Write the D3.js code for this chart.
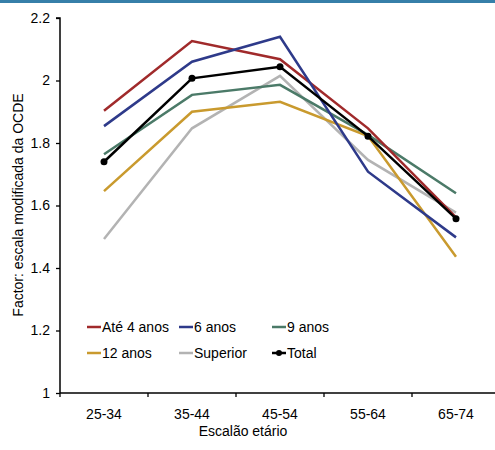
<!DOCTYPE html>
<html><head><meta charset="utf-8">
<script src="https://cdn.jsdelivr.net/npm/d3@7"></script>
<style>body{margin:0;background:#fff}svg{display:block}text{font-family:"Liberation Sans",Arial,sans-serif}</style>
</head><body>
<script>
const categories = ["25-34","35-44","45-54","55-64","65-74"];
const seriesNames = ["Até 4 anos","6 anos","9 anos","12 anos","Superior","Total"];
const ate4 = [1.903,2.126,2.068,1.847,1.562];
const anos6 = [1.854,2.060,2.140,1.708,1.498];
const anos9 = [1.764,1.954,1.986,1.826,1.639];
const anos12 = [1.646,1.900,1.932,1.822,1.436];
const superior = [1.493,1.847,2.015,1.746,1.577];
const total = [1.740,2.007,2.044,1.822,1.558];
const yTicks = [1,1.2,1.4,1.6,1.8,2,2.2];
const yTickLabels = ["1","1.2","1.4","1.6","1.8","2","2.2"];
const colors = ["#a02a2b","#2e3a8a","#4b7a68","#c99a2e","#b3b3b3","#000000"];

const seriesValues = [ate4,anos6,anos9,anos12,superior,total];
const W=495,H=450;
const svg=d3.select("body").append("svg").attr("width",W).attr("height",H);
svg.append("rect").attr("x",0).attr("y",0).attr("width",W).attr("height",3).attr("fill","#367fa9");

const x=d3.scaleBand().domain(categories).range([60,500]);
const y=d3.scaleLinear().domain([1,2.2]).range([393,18]);

// y axis
const ya=svg.append("g").attr("transform","translate(60,0)")
  .call(d3.axisLeft(y).tickValues(yTicks).tickFormat((d,i)=>yTickLabels[i]).tickSize(4).tickPadding(6));
ya.select(".domain").attr("stroke","#000").attr("stroke-width",1.5).attr("d","M-4,18H0V393");
ya.selectAll(".tick line").attr("stroke","#000").attr("stroke-width",1.3);
ya.selectAll("text").attr("font-size",14).attr("fill","#000");

// x axis
const xa=svg.append("g").attr("transform","translate(0,393)")
  .call(d3.axisBottom(x).tickSize(0).tickPadding(16));
xa.select(".domain").attr("stroke","#000").attr("stroke-width",1.5).attr("d","M60,0H500");
xa.selectAll("text").attr("font-size",14).attr("fill","#000");
const bounds=[...categories.map(c=>x(c)),x(categories[4])+x.bandwidth()];
xa.selectAll(".bt").data(bounds).enter().append("line").attr("x1",d=>d).attr("x2",d=>d).attr("y1",0).attr("y2",4).attr("stroke","#000").attr("stroke-width",1.3);

svg.append("text").attr("x",243).attr("y",436).attr("text-anchor","middle").attr("font-size",14).attr("fill","#000").text("Escalão etário");
svg.append("text").attr("transform","translate(23,205) rotate(-90)").attr("text-anchor","middle").attr("font-size",14).attr("fill","#000").text("Factor: escala modificada da OCDE");

const line=d3.line().x((d,i)=>x(categories[i])+x.bandwidth()/2).y(d=>y(d));
const order=[4,3,2,0,1,5];
order.forEach(s=>{
  svg.append("path").datum(seriesValues[s]).attr("d",line).attr("fill","none")
    .attr("stroke",colors[s]).attr("stroke-width",2.5).attr("stroke-linejoin","miter");
});
svg.selectAll(".tm").data(total).enter().append("circle")
  .attr("cx",(d,i)=>x(categories[i])+x.bandwidth()/2).attr("cy",d=>y(d)).attr("r",3.5).attr("fill","#000");

// legend
const legX=[87,179,272], legY=[327,353];
seriesNames.forEach((n,i)=>{
  const lx=legX[i%3], ly=legY[Math.floor(i/3)];
  svg.append("line").attr("x1",lx).attr("x2",lx+14).attr("y1",ly).attr("y2",ly).attr("stroke",colors[i]).attr("stroke-width",2.5);
  if(i===5) svg.append("circle").attr("cx",lx+7).attr("cy",ly).attr("r",3).attr("fill","#000");
  svg.append("text").attr("x",lx+15).attr("y",ly+5).attr("font-size",14).attr("fill","#000").text(n);
});
</script>
</body></html>
